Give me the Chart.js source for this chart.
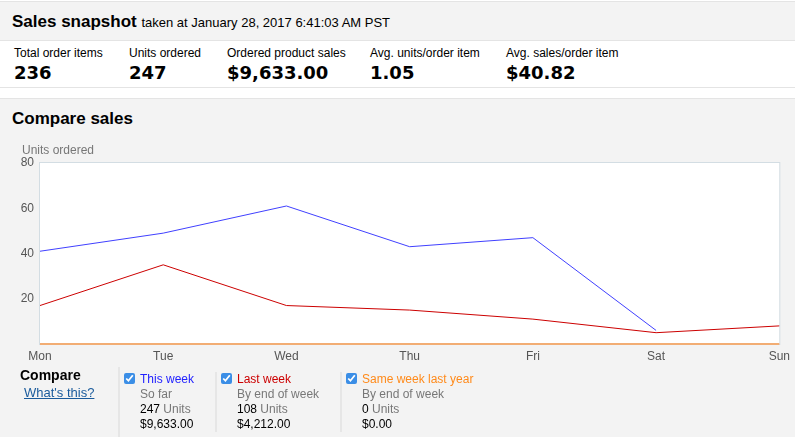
<!DOCTYPE html>
<html>
<head>
<meta charset="utf-8">
<script src="https://cdn.jsdelivr.net/npm/chart.js@4"></script>
<style>
    body { margin: 0; width: 795px; height: 441px; background: #fff; font-family: "Liberation Sans", Arial, sans-serif; color: #000; position: relative; overflow: hidden; }
    .head { position: absolute; left: 0; top: 1px; width: 800px; height: 38px; background: #f3f3f3; border-top: 1px solid #e4e4e4; border-bottom: 1px solid #e4e4e4; }
    .head .t { position: absolute; left: 12px; top: 10px; font-size: 17px; font-weight: bold; }
    .head .t span { font-size: 13px; font-weight: normal; }
    .stats { position: absolute; left: 0; top: 41px; width: 800px; height: 46px; border-bottom: 1px solid #e4e4e4; }
    .stat { position: absolute; top: 5px; }
    .stat .l { font-size: 12px; }
    .stat .v { font-family: "DejaVu Sans", Verdana, sans-serif; font-weight: bold; font-size: 18px; margin-top: 2px; }
    .sect { position: absolute; left: 0; top: 98px; width: 800px; height: 338px; background: #f3f3f3; border-top: 1px solid #e4e4e4; }
    .sect .t { position: absolute; left: 12px; top: 10px; font-size: 17px; font-weight: bold; }
    .ytitle { position: absolute; left: 22px; top: 143px; font-size: 12px; color: #777; }
    #wrap { position: absolute; left: 0; top: 140px; width: 795px; height: 230px; }
    .cmp { position: absolute; left: 20px; top: 367px; font-size: 14px; font-weight: bold; }
    .what { position: absolute; left: 24px; top: 385px; font-size: 13px; color: #1a5b9c; text-decoration: underline; }
    .div { position: absolute; width: 2px; background: #e6e6e6; }
    .col { position: absolute; top: 372px; font-size: 12px; line-height: 15px; color: #777; }
    .col .n { color: #000; }
    .col input { position: absolute; left: -16px; top: 1px; margin: 0; width: 11px; height: 11px; accent-color: #3b8ee6; }
</style>
</head>
<body>
<div class="head"><div class="t">Sales snapshot <span>taken at January 28, 2017 6:41:03 AM PST</span></div></div>
<div class="stats">
    <div class="stat" style="left:14px"><div class="l">Total order items</div><div class="v">236</div></div>
    <div class="stat" style="left:129px"><div class="l">Units ordered</div><div class="v">247</div></div>
    <div class="stat" style="left:227px"><div class="l">Ordered product sales</div><div class="v">$9,633.00</div></div>
    <div class="stat" style="left:370px"><div class="l">Avg. units/order item</div><div class="v">1.05</div></div>
    <div class="stat" style="left:506px"><div class="l">Avg. sales/order item</div><div class="v">$40.82</div></div>
</div>
<div class="sect"><div class="t">Compare sales</div></div>
<div id="wrap"><canvas id="salesChart"></canvas></div>
<div class="ytitle">Units ordered</div>

<div class="cmp">Compare</div>
<div class="what">What's this?</div>
<div class="div" style="left:118px; top:367px; height:70px"></div>
<div class="div" style="left:215px; top:372px; height:60px"></div>
<div class="div" style="left:340px; top:372px; height:60px"></div>
<div class="col" style="left:140px"><input type="checkbox" checked><div style="color:#2222ff">This week</div><div>So far</div><div><span class="n">247</span> Units</div><div class="n">$9,633.00</div></div>
<div class="col" style="left:237px"><input type="checkbox" checked><div style="color:#cc0000">Last week</div><div>By end of week</div><div><span class="n">108</span> Units</div><div class="n">$4,212.00</div></div>
<div class="col" style="left:362px"><input type="checkbox" checked><div style="color:#ff8a1a">Same week last year</div><div>By end of week</div><div><span class="n">0</span> Units</div><div class="n">$0.00</div></div>

<script>
    // Units ordered per day
    const days = ["Mon", "Tue", "Wed", "Thu", "Fri", "Sat", "Sun"];
    const thisWeek = [41, 49, 61, 43, 47, 6, null];
    const lastWeek = [17, 35, 17, 15, 11, 5, 8];
    const lastYear = [0, 0, 0, 0, 0, 0, 0];

    // white plot background with a thin frame
    const plotFrame = {
        id: 'plotFrame',
        beforeDatasetsDraw(chart) {
            const a = chart.chartArea;
            const ctx = chart.ctx;
            ctx.save();
            ctx.fillStyle = '#fff';
            ctx.fillRect(a.left, a.top, a.right - a.left, a.bottom - a.top);
            ctx.strokeStyle = '#d3dde3';
            ctx.lineWidth = 1;
            ctx.strokeRect(a.left - 0.5, a.top - 0.5, a.right - a.left + 1, a.bottom - a.top + 1);
            ctx.restore();
        }
    };

    const ctx = document.getElementById('salesChart').getContext('2d');
    new Chart(ctx, {
        type: 'line',
        data: {
            labels: days,
            datasets: [{
                label: 'Same week last year',
                data: lastYear,
                borderColor: '#f2ad74',
                borderWidth: 2,
                pointRadius: 0,
                clip: false,
            }, {
                label: 'Last week',
                data: lastWeek,
                borderColor: '#cc0000',
                borderWidth: 1,
                pointRadius: 0,
            }, {
                label: 'This week',
                data: thisWeek,
                borderColor: '#4040ff',
                borderWidth: 1,
                pointRadius: 0,
            }]
        },
        options: {
            responsive: true,
            maintainAspectRatio: false,
            animation: false,
            layout: {
                padding: { left: 0, right: 13, top: 23, bottom: 0 }
            },
            plugins: {
                legend: { display: false },
                tooltip: { enabled: false }
            },
            scales: {
                x: {
                    grid: { display: false, drawTicks: false },
                    border: { display: false },
                    ticks: {
                        color: '#555',
                        padding: 5,
                        maxRotation: 0,
                        font: { family: 'Liberation Sans', size: 12 }
                    },
                    afterFit: function(scale) { scale.height = 26; }
                },
                y: {
                    min: 0,
                    max: 80,
                    grid: { display: false, drawTicks: false },
                    border: { display: false },
                    ticks: {
                        stepSize: 20,
                        color: '#555',
                        padding: 6,
                        font: { family: 'Liberation Sans', size: 12 },
                        callback: function(v) { return v === 0 ? '' : v; }
                    },
                    afterFit: function(scale) { scale.width = 40; }
                }
            }
        },
        plugins: [plotFrame]
    });
</script>
</body>
</html>
